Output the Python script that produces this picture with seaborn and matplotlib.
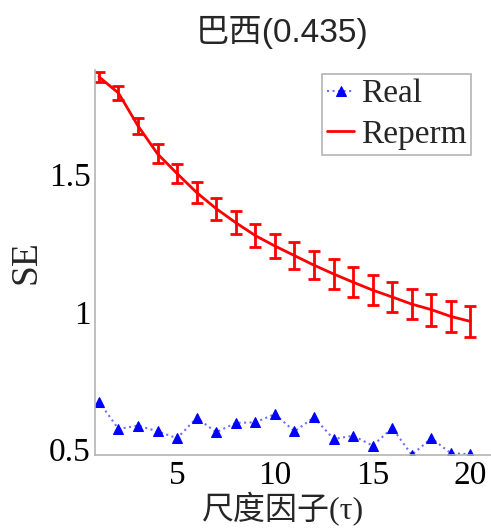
import numpy as np
import pandas as pd
import matplotlib
matplotlib.use('Agg')
import matplotlib.pyplot as plt
import seaborn as sns

scale = list(range(1, 21))
real = [0.672, 0.573, 0.585, 0.564, 0.539, 0.613, 0.561, 0.595, 0.597, 0.627,
        0.564, 0.615, 0.536, 0.548, 0.512, 0.576, 0.478, 0.539, 0.484, 0.481]
reperm = [1.857, 1.798, 1.678, 1.576, 1.504, 1.435, 1.376, 1.325, 1.278, 1.240,
          1.205, 1.170, 1.138, 1.108, 1.079, 1.054, 1.028, 1.008, 0.983, 0.965]
reperm_err = [0.018, 0.024, 0.030, 0.035, 0.036, 0.037, 0.040, 0.041, 0.043, 0.045,
              0.048, 0.051, 0.053, 0.055, 0.055, 0.056, 0.056, 0.058, 0.058, 0.058]
series_names = ['Real', 'Reperm']
title = '巴西(0.435)'
xlabel = '尺度因子(τ)'
ylabel = 'SE'
xticks = [5, 10, 15, 20]
yticks = [0.5, 1, 1.5]
ytick_labels = ['0.5', '1', '1.5']

sns.set_style('white')
plt.rcParams['font.family'] = ['Liberation Serif', 'Noto Sans CJK SC']

fig = plt.figure(figsize=(4.91, 5.29), dpi=100)
ax = fig.add_axes([0.1935, 0.14, 0.8065, 0.7277])

df = pd.DataFrame({'scale': scale, 'Real': real, 'Reperm': reperm, 'err': reperm_err})

sns.lineplot(data=df, x='scale', y='Real', ax=ax, color='#6f6fff', linestyle=':',
             linewidth=1.5, marker='^', markersize=6.5, markerfacecolor='#0000ff',
             markeredgecolor='#0000ff', label=series_names[0], clip_on=True)
ax.errorbar(df['scale'], df['Reperm'], yerr=df['err'], fmt='none', ecolor='#ff0000',
            elinewidth=2, capsize=4.5, capthick=2)
sns.lineplot(data=df, x='scale', y='Reperm', ax=ax, color='#ff0000', linewidth=2,
             label=series_names[1])

ax.set_xlim(0.8, 21.05)
ax.set_ylim(0.478, 1.882)
ax.set_xticks(xticks)
ax.set_yticks(yticks)
ax.set_yticklabels(ytick_labels)

for s in ['top', 'right']:
    ax.spines[s].set_visible(False)
for s in ['left', 'bottom']:
    ax.spines[s].set_color('#b4b4b4')
    ax.spines[s].set_linewidth(1.2)

ax.tick_params(axis='both', direction='in', length=4, width=1, color='#b4b4b4',
               labelsize=24, labelcolor='black')
ax.tick_params(axis='x', pad=4)
ax.tick_params(axis='y', pad=3)

ax.set_xlabel(xlabel, fontsize=23, va='bottom',
              family=['Liberation Serif', 'Noto Sans CJK SC'])
ax.xaxis.set_label_coords(0.474, -0.184)
ax.set_ylabel(ylabel, fontsize=27, labelpad=4)
ax.set_title(title, fontsize=24, pad=20, x=0.472,
             family=['Liberation Sans', 'Noto Sans CJK SC'])

leg = ax.legend(loc='upper right', bbox_to_anchor=(0.95, 0.99), borderaxespad=0,
                fontsize=24, frameon=True, fancybox=False, framealpha=1,
                edgecolor='#b4b4b4', handlelength=0.8, handletextpad=0.2,
                borderpad=0.15, labelspacing=0.3)
leg.get_frame().set_linewidth(1.2)

fig.savefig('out.png', dpi=100)
